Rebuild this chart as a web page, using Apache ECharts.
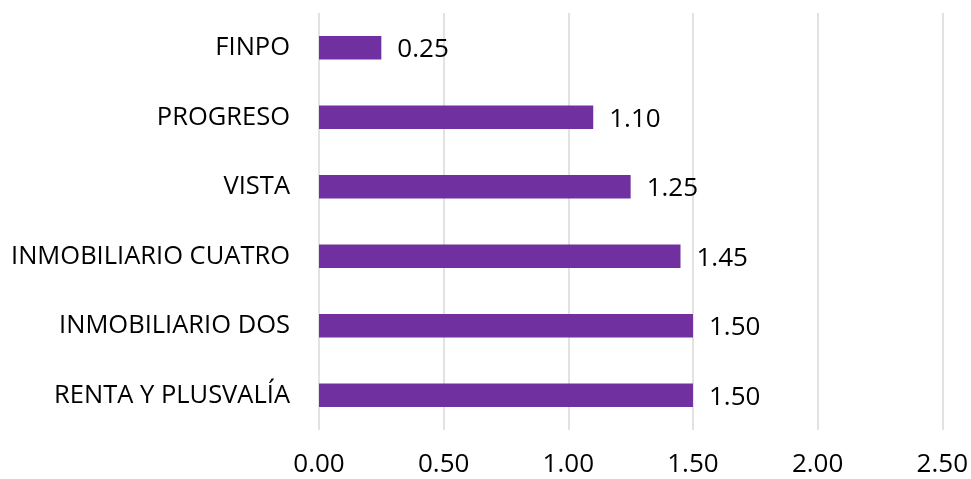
<!DOCTYPE html>
<html><head><meta charset="utf-8">
<script src="https://cdn.jsdelivr.net/npm/echarts@6/dist/echarts.min.js"></script>
<style>html,body{margin:0;padding:0;background:#fff}#c{width:971px;height:479px}</style>
</head><body><div id="c"></div>
<script>
const categories = ["RENTA Y PLUSVALÍA","INMOBILIARIO DOS","INMOBILIARIO CUATRO","VISTA","PROGRESO","FINPO"];
const values = [1.50,1.50,1.45,1.25,1.10,0.25];
const xTicks = [0,0.5,1,1.5,2,2.5];
const FONT = "Open Sans";
const chart = echarts.init(document.getElementById('c'));
chart.setOption({
  animation:false,
  grid:{left:319,right:24,top:13,bottom:49,containLabel:false},
  xAxis:{type:'value',min:xTicks[0],max:xTicks[xTicks.length-1],interval:0.5,
    axisLine:{show:false},axisTick:{show:false},
    splitLine:{lineStyle:{color:'#d9d9d9',width:1.5}},
    axisLabel:{margin:22,color:'#000',fontFamily:FONT,fontSize:26,formatter:v=>v.toFixed(2)}},
  yAxis:{type:'category',data:categories,
    axisLine:{show:false},axisTick:{show:false},
    axisLabel:{margin:29,color:'#000',fontFamily:FONT,fontSize:25.5}},
  series:[{type:'bar',data:values,barWidth:'34%',
    itemStyle:{color:'#7030A0'},
    label:{show:true,position:'right',distance:16,offset:[0,2],color:'#000',fontFamily:FONT,fontSize:26,formatter:p=>p.value.toFixed(2)}}]
});
</script></body></html>
